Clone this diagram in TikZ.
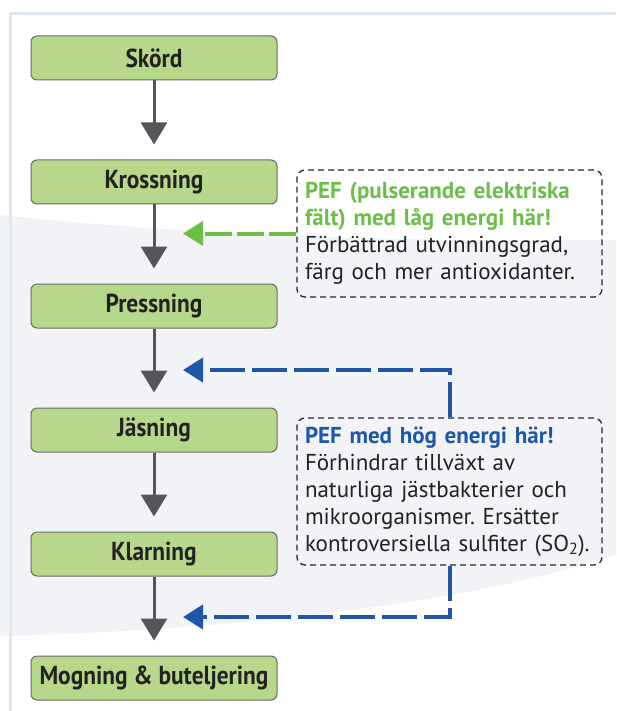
\documentclass[tikz,border=0pt]{standalone}
\usepackage{fontspec}
\setmainfont{PT Sans}
\newfontfamily\stagefont[FakeStretch=0.9]{PT Sans}
\usetikzlibrary{positioning}
\usetikzlibrary{arrows.meta}

\definecolor{stagegreen}{HTML}{B7D88A}
\definecolor{stageedge}{HTML}{6A6A6A}
\definecolor{flowgray}{HTML}{555659}
\definecolor{pefgreen}{HTML}{6BBE47}
\definecolor{pefblue}{HTML}{1E57A5}
\definecolor{panelline}{HTML}{E1E7EF}
\definecolor{bandgray}{HTML}{F2F3F7}
\definecolor{inktext}{HTML}{222222}

\tikzset{
  stage/.style={draw=stageedge, line width=1pt, fill=stagegreen, rounded corners=6pt,
    minimum width=246pt, minimum height=44pt, inner sep=0pt,
    font=\stagefont\fontsize{26}{28}\selectfont\bfseries, text=inktext},
  note/.style={draw=black!85, line width=1.3pt, dash pattern=on 6pt off 4pt,
    rounded corners=8pt, minimum width=305pt, text width=289pt, align=left,
    inner xsep=8pt, inner ysep=8pt, font=\fontsize{23}{27}\selectfont, text=inktext},
  flow/.style={draw=flowgray, line width=3pt, -{Triangle[length=22pt,width=26pt]},
    shorten >=15pt},
  pef/.style={line width=4pt, -{Triangle[length=20pt,width=24pt]}},
}

\begin{document}
\frenchspacing
\begin{tikzpicture}[x=1pt, y=-1pt]
    \useasboundingbox (0,0) rectangle (616,711);

    % Background
    \fill[bandgray] (0,215) .. controls (200,236) and (400,242) .. (616,240)
      -- (616,555) .. controls (480,600) and (250,630) .. (0,636) -- cycle;
    \draw[panelline, line width=3pt] (10,711) -- (10,14) -- (616,14);

    % Stages
    \node[stage] (skord) at (154,58) {Skörd};
    \node[stage, below=79pt of skord] (kross) {Krossning};
    \node[stage, below=79pt of kross] (press) {Pressning};
    \node[stage, below=79pt of press] (jas) {Jäsning};
    \node[stage, below=79pt of jas] (klar) {Klarning};
    \node[stage, below=79pt of klar] (mogn) {Mogning \& buteljering};

    % Notes
    \node[note, minimum height=127pt] (lownote) at (449.5,233.5) {%
      \textcolor{pefgreen}{\bfseries PEF (pulserande elektriska}\\
      \textcolor{pefgreen}{\bfseries fält) med låg energi här!}\\
      Förbättrad utvinningsgrad,\\
      färg och mer antioxidanter.};
    \node[note, minimum height=147pt] (hinote) at (449.5,491.5) {%
      \textcolor{pefblue}{\bfseries PEF med hög energi här!}\\
      Förhindrar tillväxt av\\
      naturliga jästbakterier och\\
      mikroorganismer. Ersätter\\
      kontroversiella sulfiter (SO\textsubscript{2}).};

    \coordinate (lowtip) at (183,233.5);
    \coordinate (hitip) at (183,370);
    \coordinate (klartip) at (183,617);

    % Edges
    \draw[flow] (skord) -- (kross);
    \draw[flow] (kross) -- (press);
    \draw[flow] (press) -- (jas);
    \draw[flow] (jas) -- (klar);
    \draw[flow] (klar) -- (mogn);

    \draw[pef, pefgreen, dash pattern=on 27pt off 5pt] (lownote.west) -- (lowtip);
    \draw[pef, pefblue, dash pattern=on 35pt off 7pt] (hinote.north) |- (hitip);
    \draw[pef, pefblue, dash pattern=on 35pt off 7pt] (hinote.south) |- (klartip);
\end{tikzpicture}
\end{document}
